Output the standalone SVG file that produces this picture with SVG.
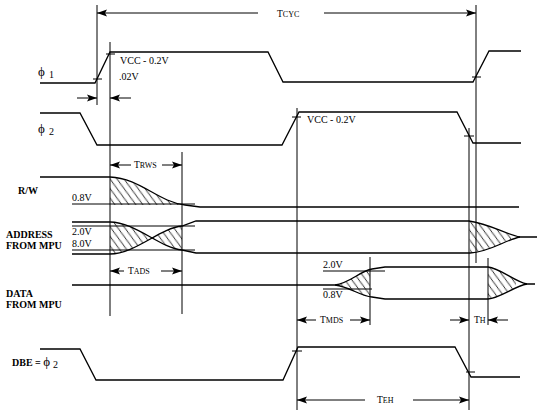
<svg xmlns="http://www.w3.org/2000/svg" width="539" height="411" viewBox="0 0 539 411">
<style>
.sig{fill:none;stroke:#000;stroke-width:1.3}
.ref{fill:none;stroke:#000;stroke-width:1}
.vl{fill:none;stroke:#000;stroke-width:1}
.arr{fill:none;stroke:#000;stroke-width:1;marker-end:url(#ah)}
.tk{stroke:#000;stroke-width:1}
.t{font-family:"Liberation Serif","DejaVu Serif",serif;font-size:10px;fill:#000}
.b{font-family:"Liberation Serif","DejaVu Serif",serif;font-size:10px;font-weight:bold;fill:#000}
.tm{font-family:"Liberation Serif","DejaVu Serif",serif;font-size:9.5px;fill:#000}
.sc{font-size:8px}
.ph{font-family:"Liberation Serif","DejaVu Serif",serif;font-size:13px;fill:#000}
.hatch{fill:url(#hp);stroke:none}
</style>
<defs>
<marker id="ah" markerUnits="userSpaceOnUse" markerWidth="11" markerHeight="8" refX="10" refY="4" orient="auto">
<path d="M0,0.5 L10,4 L0,7.5 L2,4 Z" fill="#000"/>
</marker>
<pattern id="hp" patternUnits="userSpaceOnUse" width="7" height="7" patternTransform="skewX(-15)">
<path d="M0,0 L7,7 M-1,6 L1,8 M6,-1 L8,1" stroke="#000" stroke-width="0.8"/>
</pattern>
<clipPath id="c-rw"><path d="M110,177 C140,178 158,202 185,205 L110,205 Z"/></clipPath>
<clipPath id="c-ad1"><path d="M110,222 C135,222 160,248 182,250 L182,226 C160,228 135,254 110,254 Z"/></clipPath>
<clipPath id="c-ad2"><path d="M469,221 C490,224 505,234 520,237 C505,240 490,252 470,253 Z"/></clipPath>
<clipPath id="c-d1"><path d="M335,285 C350,283 360,271 372,269 L370,297 C360,296 350,287 335,285 Z"/></clipPath>
<clipPath id="c-d2"><path d="M488,267 C500,268 515,282 527,284 C515,286 500,298 488,299 Z"/></clipPath>
</defs>

<g id="hatching">
<rect class="hatch" x="110" y="175" width="72" height="32" clip-path="url(#c-rw)"/>
<rect class="hatch" x="110" y="220" width="72" height="36" clip-path="url(#c-ad1)"/>
<rect class="hatch" x="469" y="220" width="42" height="36" clip-path="url(#c-ad2)"/>
<rect class="hatch" x="335" y="265" width="35" height="36" clip-path="url(#c-d1)"/>
<rect class="hatch" x="488" y="265" width="28" height="36" clip-path="url(#c-d2)"/>
</g>

<g id="verticals">
<line class="vl" x1="97" y1="5" x2="97" y2="105"/>
<line class="vl" x1="110" y1="42" x2="110" y2="316"/>
<line class="vl" x1="182" y1="152" x2="182" y2="314"/>
<line class="vl" x1="297" y1="108" x2="297" y2="410"/>
<line class="vl" x1="370" y1="257" x2="370" y2="325"/>
<line class="vl" x1="469" y1="128" x2="469" y2="410"/>
<line class="vl" x1="476" y1="5" x2="476" y2="263"/>
<line class="vl" x1="488" y1="258" x2="488" y2="325"/>
</g>

<g id="phi1">
<path class="sig" d="M40,83 L95,83 L110,52 L268,52 L283,82 L473,82 L489,51 L521,51"/>
<line class="tk" x1="93" y1="79" x2="102" y2="79"/>
<line class="tk" x1="106" y1="54" x2="115" y2="54"/>
<line class="tk" x1="472" y1="77" x2="481" y2="77"/>
<text class="ph" x="38" y="76">ϕ</text><text class="t" x="49" y="78">1</text>
<text class="t" x="120" y="64">VCC - 0.2V</text>
<text class="t" x="119" y="80">.02V</text>
</g>

<g id="phi2">
<path class="sig" d="M40,113 L80,113 L97,145 L282,145 L299,112 L457,112 L473,143 L521,143"/>
<line class="tk" x1="292" y1="117" x2="301" y2="117"/>
<line class="tk" x1="464" y1="136" x2="474" y2="136"/>
<text class="ph" x="38" y="133">ϕ</text><text class="t" x="49" y="135">2</text>
<text class="t" x="307" y="123">VCC - 0.2V</text>
</g>

<g id="rw">
<line class="ref" x1="72" y1="204" x2="195" y2="204"/>
<path class="sig" d="M40,177 L110,177 C140,178 158,202 185,205 L200,207 L519,207"/>
<text class="b" x="18" y="194">R/W</text>
<text class="t" x="72" y="201">0.8V</text>
</g>

<g id="address">
<line class="ref" x1="72" y1="226" x2="195" y2="226"/>
<line class="ref" x1="72" y1="250" x2="195" y2="250"/>
<path class="sig" d="M72,222 L110,222 C135,222 160,248 182,250 L196,253 L470,253 C490,252 505,240 520,237 L537,237"/>
<path class="sig" d="M72,254 L110,254 C135,254 160,228 182,226 L196,221 L469,221 C490,224 505,234 520,237"/>
<text class="b" x="6" y="238">ADDRESS</text>
<text class="b" x="6" y="249">FROM MPU</text>
<text class="t" x="72" y="235">2.0V</text>
<text class="t" x="72" y="247">8.0V</text>
</g>

<g id="data">
<line class="ref" x1="323" y1="271" x2="385" y2="271"/>
<line class="ref" x1="323" y1="289" x2="372" y2="289"/>
<path class="sig" d="M72,285 L335,285 C350,283 360,271 372,269 L385,267 L488,267 C500,268 515,282 527,284 L535,284"/>
<path class="sig" d="M335,285 C350,287 360,296 372,297 L385,299 L488,299 C500,298 515,286 527,284"/>
<text class="b" x="6" y="297">DATA</text>
<text class="b" x="6" y="308">FROM MPU</text>
<text class="t" x="323" y="268">2.0V</text>
<text class="t" x="323" y="298">0.8V</text>
</g>

<g id="dbe">
<path class="sig" d="M40,349 L80,349 L96,380 L283,380 L298,347 L455,347 L471,377 L520,377"/>
<line class="tk" x1="292" y1="351" x2="302" y2="351"/>
<line class="tk" x1="466" y1="372" x2="475" y2="372"/>
<text class="b" x="12" y="366">DBE = <tspan class="ph" font-weight="normal">ϕ</tspan></text><text class="t" x="53" y="368">2</text>
</g>

<g id="connectors">
<line class="arr" x1="258" y1="13" x2="97" y2="13"/>
<line class="arr" x1="324" y1="13" x2="476" y2="13"/>
<line class="arr" x1="77" y1="98" x2="97" y2="98"/>
<line class="arr" x1="131" y1="98" x2="110" y2="98"/>
<line class="arr" x1="131" y1="165" x2="110" y2="165"/>
<line class="arr" x1="162" y1="165" x2="182" y2="165"/>
<line class="arr" x1="124" y1="271" x2="110" y2="271"/>
<line class="arr" x1="161" y1="271" x2="182" y2="271"/>
<line class="arr" x1="316" y1="320" x2="297" y2="320"/>
<line class="arr" x1="350" y1="320" x2="370" y2="320"/>
<line class="arr" x1="450" y1="320" x2="469" y2="320"/>
<line class="arr" x1="508" y1="320" x2="488" y2="320"/>
<line class="arr" x1="365" y1="400" x2="297" y2="400"/>
<line class="arr" x1="413" y1="400" x2="469" y2="400"/>
</g>

<g id="timing-labels">
<text class="tm" x="277" y="17">T<tspan class="sc">CYC</tspan></text>
<text class="tm" x="134" y="168">T<tspan class="sc">RWS</tspan></text>
<text class="tm" x="128" y="274">T<tspan class="sc">ADS</tspan></text>
<text class="tm" x="320" y="323">T<tspan class="sc">MDS</tspan></text>
<text class="tm" x="474" y="323">T<tspan class="sc">H</tspan></text>
<text class="tm" x="377" y="403">T<tspan class="sc">EH</tspan></text>
</g>
</svg>
